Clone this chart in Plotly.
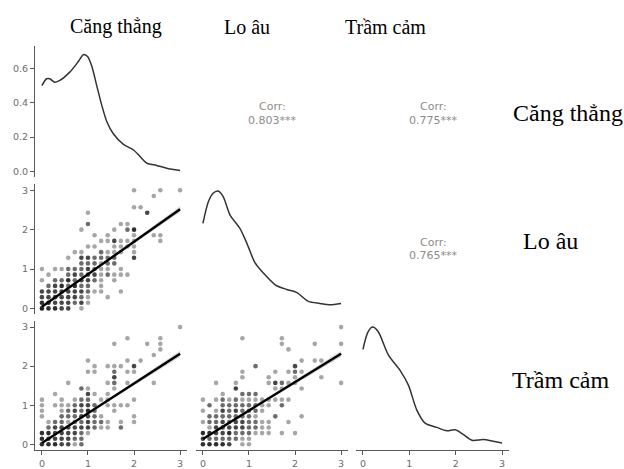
import plotly.graph_objects as go

W, H = 624, 469

# ---------------- data ----------------
variables = ["Căng thẳng", "Lo âu", "Trầm cảm"]
corr_values = ["0.803***", "0.775***", "0.765***"]   # (CT,LA), (CT,TC), (LA,TC)
x_ticks = [0, 1, 2, 3]
dens_ticks = [0.0, 0.2, 0.4, 0.6]

# density of Căng thẳng (row 1, real density units)
stress_dens_x = [0, 0.10, 0.17, 0.28, 0.39, 0.61, 0.79, 0.90, 0.99, 1.08, 1.19, 1.30,
                 1.41, 1.55, 1.77, 1.99, 2.13, 2.28, 2.49, 2.71, 3.0]
stress_dens_y = [0.50, 0.54, 0.54, 0.52, 0.53, 0.58, 0.64, 0.68, 0.67, 0.615, 0.50, 0.385,
                 0.29, 0.22, 0.158, 0.125, 0.087, 0.048, 0.035, 0.019, 0.006]
# density of Lo âu (relative to its own panel)
anx_dens_x = [0, 0.12, 0.22, 0.33, 0.44, 0.59, 0.80, 0.95, 1.13, 1.31, 1.57, 1.82,
              2.04, 2.29, 2.54, 2.76, 3.0]
anx_dens_y = [0.72, 0.905, 0.975, 0.994, 0.947, 0.79, 0.68, 0.555, 0.387, 0.30, 0.20, 0.16,
              0.134, 0.059, 0.042, 0.031, 0.042]
# density of Trầm cảm (relative to its own panel)
dep_dens_x = [0, 0.11, 0.21, 0.33, 0.55, 0.80, 0.98, 1.16, 1.34, 1.59, 1.81, 1.99,
              2.17, 2.35, 2.60, 2.81, 3.0]
dep_dens_y = [0.81, 0.96, 1.0, 0.96, 0.76, 0.63, 0.505, 0.294, 0.18, 0.144, 0.116, 0.124,
              0.082, 0.034, 0.04, 0.025, 0.011]

# scatter points: (x item-sum, y item-sum, number of overlapping respondents); mean = sum/7
pts_anx_vs_stress = [
    (0,0,5),(1,0,4),(2,0,4),(3,0,3),(4,0,3),(6,0,1),
    (0,1,4),(1,1,4),(2,1,3),(3,1,3),(4,1,3),(5,1,2),(6,1,3),(7,1,1),
    (0,2,3),(1,2,3),(2,2,3),(3,2,3),(4,2,3),(5,2,3),(6,2,2),(7,2,1),(10,2,1),
    (0,3,3),(1,3,3),(2,3,3),(3,3,3),(4,3,3),(5,3,3),(6,3,3),(7,3,2),(8,3,1),(9,3,1),(12,3,1),
    (1,4,2),(2,4,3),(3,4,4),(4,4,2),(5,4,4),(6,4,2),(7,4,2),(9,4,1),
    (0,5,1),(2,5,2),(3,5,2),(4,5,4),(5,5,2),(6,5,3),(7,5,3),(8,5,2),(9,5,1),(11,5,1),
    (1,6,1),(4,6,2),(5,6,3),(6,6,2),(7,6,3),(8,6,3),(9,6,1),(10,6,2),(11,6,1),(12,6,1),(13,6,1),
    (0,7,1),(2,7,1),(3,7,1),(4,7,2),(5,7,2),(6,7,2),(7,7,3),(8,7,2),(9,7,1),(10,7,1),(12,7,1),
    (6,8,2),(7,8,2),(8,8,2),(9,8,1),(10,8,2),(11,8,2),
    (4,9,1),(6,9,3),(7,9,3),(8,9,2),(9,9,2),(10,9,2),(11,9,2),(14,9,3),
    (5,10,1),(6,10,1),(9,10,2),(10,10,1),(11,10,1),(12,10,1),(14,10,1),
    (7,11,1),(8,11,1),(11,11,1),(12,11,1),(13,11,1),(14,11,1),
    (9,12,1),(10,12,1),(11,12,3),(12,12,1),(13,12,1),(14,12,1),(18,12,1),
    (8,13,1),(10,13,1),(14,13,1),(17,13,1),(18,13,1),
    (6,14,1),(11,14,1),(13,14,2),(14,14,4),
    (7,15,2),(12,15,1),(13,15,1),
    (7,17,1),(16,17,3),
    (14,18,1),(15,18,1),
    (17,20,1),
    (14,21,1),(18,21,1),(21,21,1),
]
pts_dep_vs_stress = [
    (0,0,4),(1,0,4),(2,0,4),(3,0,3),(4,0,3),(5,0,1),(6,0,2),
    (0,1,4),(1,1,3),(2,1,3),(3,1,3),(4,1,3),(5,1,2),(6,1,2),
    (0,2,4),(1,2,4),(2,2,3),(3,2,3),(4,2,3),(5,2,3),(6,2,2),(7,2,1),
    (1,3,2),(2,3,3),(3,3,3),(4,3,3),(5,3,3),(6,3,3),(7,3,3),(8,3,2),(9,3,1),(10,3,1),(12,3,2),
    (1,4,1),(2,4,2),(3,4,2),(4,4,1),(5,4,2),(6,4,2),(7,4,3),(8,4,2),(9,4,2),(10,4,1),(12,4,1),(14,4,1),
    (0,5,1),(3,5,2),(4,5,2),(5,5,2),(6,5,3),(7,5,3),(8,5,2),(9,5,1),(14,5,1),
    (0,6,1),(3,6,1),(4,6,2),(5,6,3),(6,6,2),(7,6,4),(8,6,2),(11,6,1),
    (0,7,1),(2,7,1),(3,7,1),(4,7,1),(5,7,2),(6,7,3),(7,7,3),(8,7,2),(10,7,1),(11,7,1),(12,7,1),(13,7,1),
    (0,8,1),(3,8,1),(5,8,1),(6,8,2),(7,8,2),(9,8,1),(10,8,1),(14,8,1),
    (2,9,1),(7,9,3),(8,9,1),(10,9,1),
    (6,10,2),(7,10,1),(11,10,1),
    (4,11,1),(10,11,1),(11,11,2),(13,11,1),(17,11,1),
    (11,12,3),
    (7,13,1),(8,13,1),(11,13,2),(13,13,1),(14,13,1),
    (8,14,1),(10,14,1),(11,14,1),(12,14,1),(14,14,3),
    (7,15,1),(13,15,1),(15,15,1),
    (17,16,1),
    (18,17,1),
    (11,18,1),(16,18,1),(18,18,1),
    (13,19,1),(18,19,1),
    (21,21,1),
]
pts_dep_vs_anx = [
    (0,0,4),(1,0,4),(2,0,4),(3,0,4),(4,0,3),(6,0,1),(7,0,1),
    (0,1,3),(1,1,2),(2,1,2),(3,1,2),(4,1,2),(5,1,2),(6,1,1),(7,1,1),
    (0,2,4),(1,2,4),(2,2,3),(3,2,3),(4,2,4),(5,2,2),(6,2,2),(7,2,2),(8,2,1),(9,2,1),(10,2,1),(12,2,1),(14,2,1),
    (1,3,1),(2,3,3),(3,3,3),(4,3,3),(5,3,3),(6,3,3),(7,3,2),(8,3,2),(9,3,1),(10,3,1),
    (0,4,1),(1,4,2),(2,4,2),(3,4,3),(4,4,2),(5,4,3),(6,4,3),(7,4,2),(8,4,2),(9,4,1),(10,4,1),(13,4,1),
    (1,5,2),(2,5,2),(3,5,2),(4,5,2),(5,5,2),(6,5,2),(7,5,2),(8,5,1),(11,5,2),(15,5,1),
    (0,6,1),(2,6,1),(3,6,3),(4,6,2),(5,6,3),(6,6,2),(7,6,2),(8,6,2),(9,6,1),
    (1,7,2),(3,7,2),(4,7,2),(5,7,2),(6,7,2),(7,7,2),(8,7,2),(9,7,1),(10,7,1),(12,7,2),
    (0,8,1),(2,8,1),(3,8,2),(4,8,1),(5,8,2),(6,8,1),(7,8,1),(8,8,1),(9,8,1),(10,8,1),(11,8,1),(12,8,1),(13,8,1),
    (3,9,1),(6,9,2),(7,9,2),(8,9,2),
    (5,10,3),(11,10,1),(12,10,1),(15,10,1),
    (2,11,1),(5,11,1),(10,11,1),(11,11,3),(12,11,2),(13,11,1),(14,11,1),(21,11,1),
    (6,12,1),(10,12,1),(14,12,1),(18,12,1),
    (6,13,1),(11,13,1),(13,13,1),(14,13,2),(15,13,1),
    (8,14,2),(14,14,3),
    (15,15,1),(17,15,1),(18,15,1),
    (13,17,1),
    (12,18,1),(17,18,1),(21,18,1),
    (6,19,1),(12,19,1),
    (21,21,1),
]

# linear fits: intercept, slope
fit_anx_vs_stress = (0.04, 0.827)
fit_dep_vs_stress = (0.03, 0.763)
fit_dep_vs_anx = (0.135, 0.728)
# half-width of the 95% band along x
band_x = [0, 0.5, 1.0, 1.5, 2.0, 2.5, 3.0]
band_anx_vs_stress = [0.035, 0.022, 0.022, 0.03, 0.042, 0.058, 0.075]
band_dep_vs_stress = [0.035, 0.022, 0.022, 0.03, 0.042, 0.058, 0.075]
band_dep_vs_anx = [0.035, 0.022, 0.024, 0.033, 0.045, 0.06, 0.078]

# ---------------- geometry (pixels) ----------------
cols_px = [(35, 187), (196, 348), (356, 509)]
rows_px = [(46, 179), (186, 317), (324, 454)]


def xdom(c):
    a, b = cols_px[c]
    return [a / W, b / W]


def ydom(r):
    t, b = rows_px[r]
    return [1 - b / H, 1 - t / H]


AX_COL = "#5a5a5a"
TICK_FONT = dict(family="DejaVu Sans", size=9.5, color="#6b6b6b")

fig = go.Figure()

# panel definitions: (axis index, row, col, kind)
panels = [
    (1, 0, 0, "d"),
    (2, 1, 0, "s"),
    (3, 1, 1, "d"),
    (4, 2, 0, "s"),
    (5, 2, 1, "s"),
    (6, 2, 2, "d"),
]

layout_axes = {}
for idx, r, c, kind in panels:
    xname = "xaxis" if idx == 1 else f"xaxis{idx}"
    yname = "yaxis" if idx == 1 else f"yaxis{idx}"
    bottom = (r == 2)
    left = (c == 0)
    xa = dict(domain=xdom(c), range=[-0.15, 3.15], anchor="y" if idx == 1 else f"y{idx}",
              showgrid=False, zeroline=False, fixedrange=True,
              showline=bottom, linecolor=AX_COL, linewidth=1.2,
              ticks="outside" if bottom else "", ticklen=4, tickcolor=AX_COL, tickwidth=1.2,
              tickvals=x_ticks, showticklabels=bottom, tickfont=TICK_FONT)
    if r == 0:
        yr = [-0.035, 0.733]
        yt = dens_ticks
        yfmt = ".1f"
    elif kind == "d":
        yr = [-0.05, 1.05]
        yt = []
        yfmt = ""
    else:
        yr = [-0.15, 3.15]
        yt = x_ticks
        yfmt = ""
    ya = dict(domain=ydom(r), range=yr, anchor="x" if idx == 1 else f"x{idx}",
              showgrid=False, zeroline=False, fixedrange=True,
              showline=left, linecolor=AX_COL, linewidth=1.2,
              ticks="outside" if left else "", ticklen=4, tickcolor=AX_COL, tickwidth=1.2,
              tickvals=yt, tickformat=yfmt, showticklabels=left, tickfont=TICK_FONT)
    layout_axes[xname] = xa
    layout_axes[yname] = ya


def axref(idx):
    return ("x" if idx == 1 else f"x{idx}", "y" if idx == 1 else f"y{idx}")


# density curves
for idx, xs, ys in [(1, stress_dens_x, stress_dens_y), (3, anx_dens_x, anx_dens_y),
                    (6, dep_dens_x, dep_dens_y)]:
    xr, yr = axref(idx)
    fig.add_trace(go.Scatter(x=xs, y=ys, mode="lines", xaxis=xr, yaxis=yr,
                             line=dict(color="#333333", width=1.5, shape="spline", smoothing=0.8),
                             hoverinfo="skip", showlegend=False))


def alpha(n, a=0.35):
    return 1 - (1 - a) ** n


for idx, pts, fit, band in [(2, pts_anx_vs_stress, fit_anx_vs_stress, band_anx_vs_stress),
                            (4, pts_dep_vs_stress, fit_dep_vs_stress, band_dep_vs_stress),
                            (5, pts_dep_vs_anx, fit_dep_vs_anx, band_dep_vs_anx)]:
    xr, yr = axref(idx)
    xs = [p[0] / 7 for p in pts]
    ys = [p[1] / 7 for p in pts]
    cols = [f"rgba(0,0,0,{alpha(p[2]):.3f})" for p in pts]
    fig.add_trace(go.Scatter(x=xs, y=ys, mode="markers", xaxis=xr, yaxis=yr,
                             marker=dict(size=4.6, color=cols, line=dict(width=0)),
                             hoverinfo="skip", showlegend=False))
    b0, b1 = fit
    up = [b0 + b1 * x + h for x, h in zip(band_x, band)]
    lo = [b0 + b1 * x - h for x, h in zip(band_x, band)]
    fig.add_trace(go.Scatter(x=band_x + band_x[::-1], y=up + lo[::-1], mode="lines",
                             fill="toself", fillcolor="rgba(150,150,150,0.4)",
                             line=dict(width=0), xaxis=xr, yaxis=yr,
                             hoverinfo="skip", showlegend=False))
    fig.add_trace(go.Scatter(x=[0, 3], y=[b0, b0 + b1 * 3], mode="lines", xaxis=xr, yaxis=yr,
                             line=dict(color="black", width=2.4),
                             hoverinfo="skip", showlegend=False))

annotations = []
SERIF = "Liberation Serif"
# column titles
for name, (px, py) in zip(variables, [(116, 27), (247, 27), (385, 27)]):
    annotations.append(dict(text=name, x=px / W, y=1 - py / H, xref="paper", yref="paper",
                            xanchor="center", yanchor="middle", showarrow=False,
                            font=dict(family=SERIF, size=20, color="black")))
# row titles
for name, (px, py) in zip(variables, [(568, 114), (550, 243), (560, 383)]):
    annotations.append(dict(text=name, x=px / W, y=1 - py / H, xref="paper", yref="paper",
                            xanchor="center", yanchor="middle", showarrow=False,
                            font=dict(family=SERIF, size=24, color="black")))
# correlation texts
corr_pos = [(272, 107, 122), (433, 107, 122), (433, 245, 258)]
CORR_FONT = dict(family="DejaVu Sans", size=11, color="#8c8c8c")
for val, (px, py1, py2) in zip(corr_values, corr_pos):
    annotations.append(dict(text="Corr:", x=px / W, y=1 - py1 / H, xref="paper", yref="paper",
                            xanchor="center", yanchor="middle", showarrow=False, font=CORR_FONT))
    annotations.append(dict(text=val, x=px / W, y=1 - py2 / H, xref="paper", yref="paper",
                            xanchor="center", yanchor="middle", showarrow=False, font=CORR_FONT))

fig.update_layout(width=W, height=H, autosize=False,
                  margin=dict(l=0, r=0, t=0, b=0),
                  paper_bgcolor="white", plot_bgcolor="white",
                  showlegend=False, annotations=annotations, **layout_axes)

fig.write_html("out.html", config={"displayModeBar": False},
               post_script="document.body.style.margin='0';document.body.style.overflow='hidden';")
